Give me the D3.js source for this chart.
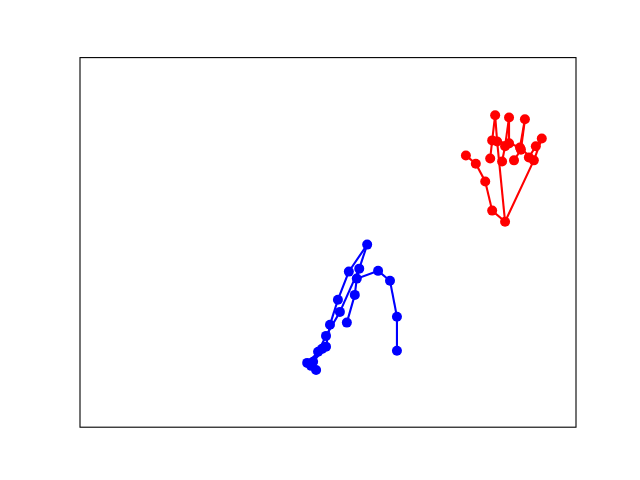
<!DOCTYPE html>
<html>
<head>
<meta charset="utf-8">
<script src="https://cdn.jsdelivr.net/npm/d3@7"></script>
<style>
  body { margin: 0; background: #fff; }
</style>
</head>
<body>
<div id="chart"></div>
<script>

// hand landmarks, red hand (21 points)
var redX = [0.857, 0.831, 0.817, 0.798, 0.778,
            0.841, 0.837, 0.831, 0.827,
            0.865, 0.865, 0.857, 0.851,
            0.887, 0.897, 0.889, 0.875,
            0.915, 0.931, 0.919, 0.905];
var redY = [0.556, 0.586, 0.665, 0.713, 0.735,
            0.773, 0.844, 0.776, 0.727,
            0.768, 0.838, 0.760, 0.719,
            0.757, 0.833, 0.751, 0.722,
            0.722, 0.781, 0.760, 0.730];
var redLinks = [[0,1],[1,2],[2,3],[3,4],[0,5],[5,6],[6,7],[7,8],[5,9],[9,10],[10,11],[11,12],
                [9,13],[13,14],[14,15],[15,16],[13,17],[0,17],[17,18],[18,19],[19,20]];

// blue hand (21 points)
var blueX = [0.579, 0.542, 0.563, 0.558, 0.601, 0.625, 0.639, 0.639,
             0.554, 0.538, 0.520, 0.524, 0.504, 0.496, 0.496, 0.488,
             0.480, 0.470, 0.458, 0.466, 0.476];
var blueY = [0.494, 0.421, 0.429, 0.402, 0.423, 0.396, 0.299, 0.207,
             0.358, 0.283, 0.345, 0.312, 0.277, 0.247, 0.218, 0.212,
             0.204, 0.177, 0.174, 0.166, 0.155];
var blueLinks = [[0,1],[0,2],[2,3],[3,4],[4,5],[5,6],[6,7],[3,8],[8,9],
                 [1,10],[10,12],[12,14],[14,17],[17,18],
                 [2,11],[11,13],[13,16],[16,19],[19,20],[14,15],[15,18]];

var width = 640, height = 480,
    margin = { top: 57.6, right: 64, bottom: 52.8, left: 80 };

var x = d3.scaleLinear().domain([0, 1]).range([margin.left, width - margin.right]),
    y = d3.scaleLinear().domain([0, 1]).range([height - margin.bottom, margin.top]);

var svg = d3.select('#chart').append('svg')
    .attr('width', width)
    .attr('height', height);

svg.append('rect')
    .attr('x', margin.left)
    .attr('y', margin.top)
    .attr('width', width - margin.left - margin.right)
    .attr('height', height - margin.top - margin.bottom)
    .attr('fill', 'none')
    .attr('stroke', '#000')
    .attr('stroke-width', 1.1);

function drawHand(xs, ys, links, color) {
  var g = svg.append('g');
  g.selectAll('line').data(links).enter()
    .append('line')
      .attr('x1', d => x(xs[d[0]]))
      .attr('y1', d => y(ys[d[0]]))
      .attr('x2', d => x(xs[d[1]]))
      .attr('y2', d => y(ys[d[1]]))
      .attr('stroke', color)
      .attr('stroke-width', 2.1)
      .attr('stroke-linecap', 'square');
  g.selectAll('circle').data(xs).enter()
    .append('circle')
      .attr('cx', (d, i) => x(xs[i]))
      .attr('cy', (d, i) => y(ys[i]))
      .attr('r', 5)
      .attr('fill', color);
}

drawHand(redX, redY, redLinks, '#ff0000');
drawHand(blueX, blueY, blueLinks, '#0000ff');

</script>
</body>
</html>
